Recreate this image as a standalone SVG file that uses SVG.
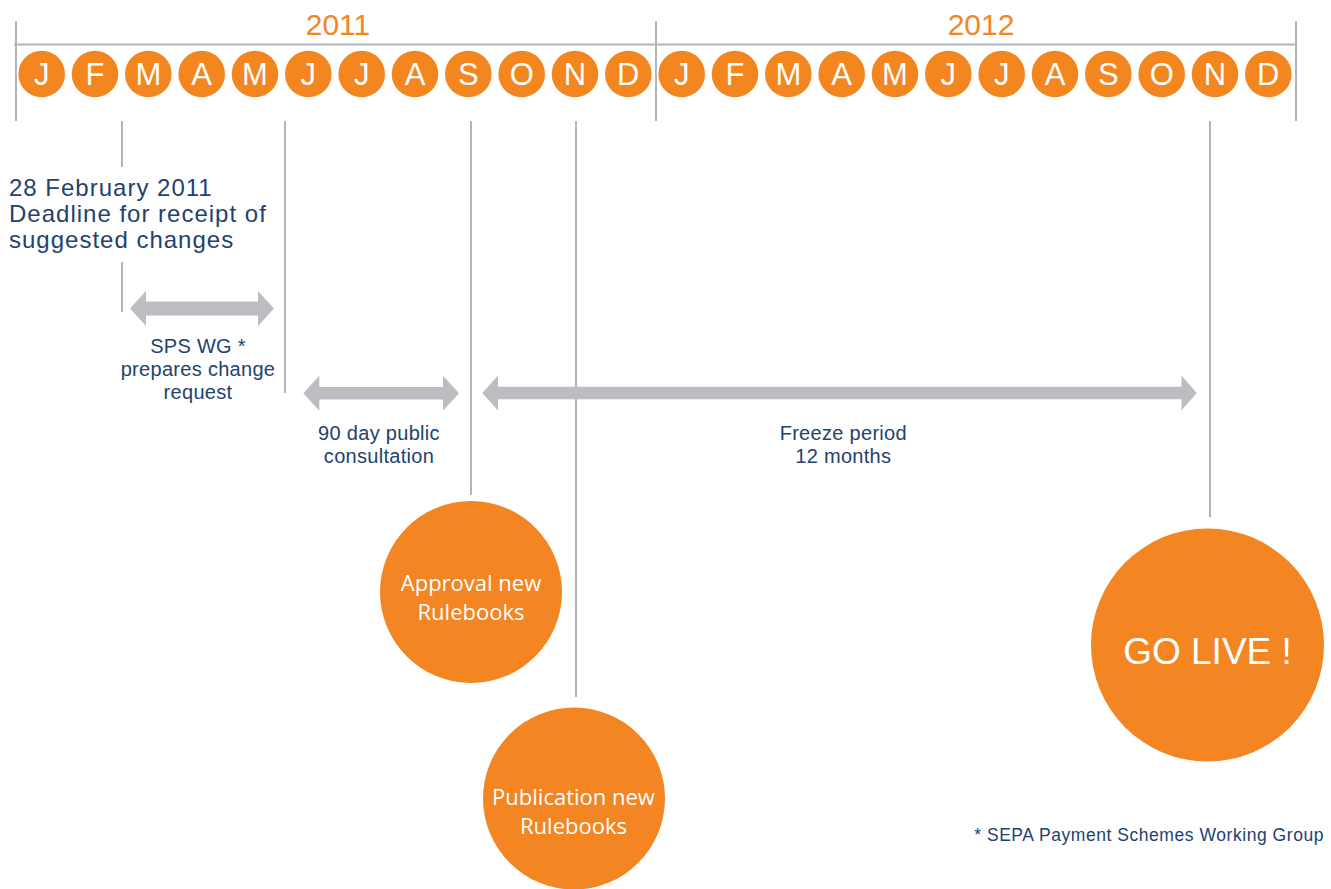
<svg xmlns="http://www.w3.org/2000/svg" width="1331" height="889" viewBox="0 0 1331 889">
  <style>
    .axis { stroke: #b4b4b9; stroke-width: 2; fill: none; }
    .drop { stroke: #adadb2; stroke-width: 1.8; fill: none; }
    .span { fill: #bcbdc0; }
    .year { font-family: "Liberation Sans", Arial, sans-serif; font-size: 30px; fill: #f3861f; text-anchor: middle; }
    .mon-dot { fill: #f3861f; }
    .mon { font-family: "Liberation Sans", Arial, sans-serif; font-size: 31px; fill: #ffffff; text-anchor: middle; }
    .note { font-family: "Liberation Sans", Arial, sans-serif; font-size: 20px; fill: #22426f; text-anchor: middle; letter-spacing: 0.3px; }
    .head { font-family: "Liberation Sans", Arial, sans-serif; font-size: 24px; fill: #22426f; letter-spacing: 1px; }
    .ball { fill: #f38522; }
    .ball-text { font-family: "Open Sans", "Noto Sans", sans-serif; font-size: 22px; fill: #ffffff; text-anchor: middle; }
    .live-text { font-family: "Liberation Sans", Arial, sans-serif; font-size: 37px; fill: #ffffff; text-anchor: middle; }
    .foot { font-family: "Liberation Sans", Arial, sans-serif; font-size: 17.5px; fill: #22426f; text-anchor: end; letter-spacing: 0.55px; }
  </style>

  <!-- timeline axis with year brackets -->
  <g id="axis">
    <line class="axis" x1="14" y1="44.5" x2="1296" y2="44.5"/>
    <line class="axis" x1="16" y1="21" x2="16" y2="121"/>
    <line class="axis" x1="656" y1="21" x2="656" y2="121"/>
    <line class="axis" x1="1296" y1="21" x2="1296" y2="121"/>
    <text class="year" x="338" y="35">2011</text>
    <text class="year" x="981" y="35">2012</text>
  </g>

  <!-- month markers, 53.33 px apart -->
  <g id="months">
    <g id="m2011-01"><circle class="mon-dot" cx="41.7" cy="74" r="23.3"/><text class="mon" x="41.7" y="85.3">J</text></g>
    <g id="m2011-02"><circle class="mon-dot" cx="95" cy="74" r="23.3"/><text class="mon" x="95" y="85.3">F</text></g>
    <g id="m2011-03"><circle class="mon-dot" cx="148.3" cy="74" r="23.3"/><text class="mon" x="148.3" y="85.3">M</text></g>
    <g id="m2011-04"><circle class="mon-dot" cx="201.7" cy="74" r="23.3"/><text class="mon" x="201.7" y="85.3">A</text></g>
    <g id="m2011-05"><circle class="mon-dot" cx="255" cy="74" r="23.3"/><text class="mon" x="255" y="85.3">M</text></g>
    <g id="m2011-06"><circle class="mon-dot" cx="308.3" cy="74" r="23.3"/><text class="mon" x="308.3" y="85.3">J</text></g>
    <g id="m2011-07"><circle class="mon-dot" cx="361.7" cy="74" r="23.3"/><text class="mon" x="361.7" y="85.3">J</text></g>
    <g id="m2011-08"><circle class="mon-dot" cx="415" cy="74" r="23.3"/><text class="mon" x="415" y="85.3">A</text></g>
    <g id="m2011-09"><circle class="mon-dot" cx="468.3" cy="74" r="23.3"/><text class="mon" x="468.3" y="85.3">S</text></g>
    <g id="m2011-10"><circle class="mon-dot" cx="521.7" cy="74" r="23.3"/><text class="mon" x="521.7" y="85.3">O</text></g>
    <g id="m2011-11"><circle class="mon-dot" cx="575" cy="74" r="23.3"/><text class="mon" x="575" y="85.3">N</text></g>
    <g id="m2011-12"><circle class="mon-dot" cx="628.3" cy="74" r="23.3"/><text class="mon" x="628.3" y="85.3">D</text></g>
    <g id="m2012-01"><circle class="mon-dot" cx="681.7" cy="74" r="23.3"/><text class="mon" x="681.7" y="85.3">J</text></g>
    <g id="m2012-02"><circle class="mon-dot" cx="735" cy="74" r="23.3"/><text class="mon" x="735" y="85.3">F</text></g>
    <g id="m2012-03"><circle class="mon-dot" cx="788.3" cy="74" r="23.3"/><text class="mon" x="788.3" y="85.3">M</text></g>
    <g id="m2012-04"><circle class="mon-dot" cx="841.7" cy="74" r="23.3"/><text class="mon" x="841.7" y="85.3">A</text></g>
    <g id="m2012-05"><circle class="mon-dot" cx="895" cy="74" r="23.3"/><text class="mon" x="895" y="85.3">M</text></g>
    <g id="m2012-06"><circle class="mon-dot" cx="948.3" cy="74" r="23.3"/><text class="mon" x="948.3" y="85.3">J</text></g>
    <g id="m2012-07"><circle class="mon-dot" cx="1001.7" cy="74" r="23.3"/><text class="mon" x="1001.7" y="85.3">J</text></g>
    <g id="m2012-08"><circle class="mon-dot" cx="1055" cy="74" r="23.3"/><text class="mon" x="1055" y="85.3">A</text></g>
    <g id="m2012-09"><circle class="mon-dot" cx="1108.3" cy="74" r="23.3"/><text class="mon" x="1108.3" y="85.3">S</text></g>
    <g id="m2012-10"><circle class="mon-dot" cx="1161.7" cy="74" r="23.3"/><text class="mon" x="1161.7" y="85.3">O</text></g>
    <g id="m2012-11"><circle class="mon-dot" cx="1215" cy="74" r="23.3"/><text class="mon" x="1215" y="85.3">N</text></g>
    <g id="m2012-12"><circle class="mon-dot" cx="1268.3" cy="74" r="23.3"/><text class="mon" x="1268.3" y="85.3">D</text></g>
  </g>

  <!-- drop lines and period arrows -->
  <g id="connectors">
    <line class="drop" x1="122" y1="121" x2="122" y2="167"/>
    <line class="drop" x1="122" y1="262" x2="122" y2="312"/>
    <line class="drop" x1="285" y1="121" x2="285" y2="393"/>
    <line class="drop" x1="471" y1="121" x2="471" y2="495"/>
    <line class="drop" x1="576" y1="121" x2="576" y2="697"/>
    <line class="drop" x1="1210" y1="121" x2="1210" y2="517"/>

    <polygon id="span-sps" class="span" points="130,308.5 146,291 146,301.5 258,301.5 258,291 274,308.5 258,326 258,315.5 146,315.5 146,326"/>
    <polygon id="span-consult" class="span" points="303.3,393.3 319.3,375.8 319.3,387 443,387 443,375.8 459,393.3 443,410.8 443,399.6 319.3,399.6 319.3,410.8"/>
    <polygon id="span-freeze" class="span" points="482.3,393 498,375.5 498,386.7 1181.5,386.7 1181.5,375.5 1196.7,393 1181.5,410.5 1181.5,399.3 498,399.3 498,410.5"/>
  </g>

  <g id="deadline">
    <text class="head" x="9" y="196">28 February 2011</text>
    <text class="head" x="9" y="222">Deadline for receipt of</text>
    <text class="head" x="9" y="248">suggested changes</text>
  </g>

  <g id="sps-label">
    <text class="note" x="198" y="352.5">SPS WG *</text>
    <text class="note" x="198" y="375.5">prepares change</text>
    <text class="note" x="198" y="399">request</text>
  </g>

  <g id="consult-label">
    <text class="note" x="379" y="440">90 day public</text>
    <text class="note" x="379" y="463">consultation</text>
  </g>

  <g id="freeze-label">
    <text class="note" x="843.3" y="439.5">Freeze period</text>
    <text class="note" x="843.3" y="463.3">12 months</text>
  </g>

  <g id="approval">
    <circle class="ball" cx="471" cy="592" r="91"/>
    <text class="ball-text" x="471" y="591">Approval new</text>
    <text class="ball-text" x="471" y="619.5">Rulebooks</text>
  </g>

  <g id="publication">
    <circle class="ball" cx="574" cy="798.5" r="91"/>
    <text class="ball-text" x="573.5" y="804.5">Publication new</text>
    <text class="ball-text" x="573.5" y="833.5">Rulebooks</text>
  </g>

  <g id="go-live">
    <circle class="ball" cx="1207.5" cy="645" r="116.5"/>
    <text class="live-text" x="1207.5" y="663.5">GO LIVE !</text>
  </g>

  <g id="footnote">
    <text class="foot" x="1324" y="840.5">* SEPA Payment Schemes Working Group</text>
  </g>
</svg>
